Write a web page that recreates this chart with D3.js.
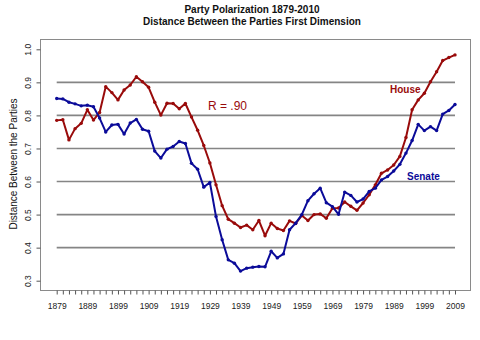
<!DOCTYPE html>
<html><head><meta charset="utf-8">
<script src="https://cdn.jsdelivr.net/npm/d3@7"></script>
<style>body{margin:0;background:#fff;} svg{display:block;font-family:"Liberation Sans",Arial,sans-serif;}</style>
</head><body><svg id="c" width="480" height="340"></svg>
<script>
const years = [1879,1881,1883,1885,1887,1889,1891,1893,1895,1897,1899,1901,1903,1905,1907,1909,1911,1913,1915,1917,1919,1921,1923,1925,1927,1929,1931,1933,1935,1937,1939,1941,1943,1945,1947,1949,1951,1953,1955,1957,1959,1961,1963,1965,1967,1969,1971,1973,1975,1977,1979,1981,1983,1985,1987,1989,1991,1993,1995,1997,1999,2001,2003,2005,2007,2009];
const house = [0.785,0.787,0.726,0.760,0.776,0.817,0.786,0.809,0.887,0.869,0.847,0.877,0.892,0.917,0.902,0.885,0.840,0.801,0.837,0.836,0.820,0.836,0.795,0.755,0.709,0.656,0.590,0.527,0.486,0.474,0.461,0.468,0.454,0.482,0.436,0.474,0.458,0.452,0.481,0.473,0.497,0.482,0.500,0.502,0.489,0.519,0.520,0.538,0.525,0.513,0.535,0.560,0.590,0.625,0.635,0.650,0.676,0.733,0.817,0.847,0.867,0.902,0.932,0.966,0.975,0.983];
const senate = [0.851,0.850,0.840,0.835,0.829,0.831,0.826,0.792,0.750,0.771,0.773,0.744,0.777,0.788,0.758,0.752,0.692,0.671,0.698,0.706,0.721,0.715,0.655,0.637,0.583,0.597,0.494,0.424,0.363,0.353,0.329,0.338,0.341,0.343,0.342,0.389,0.369,0.381,0.454,0.474,0.500,0.542,0.563,0.580,0.536,0.524,0.501,0.568,0.558,0.538,0.547,0.570,0.580,0.605,0.615,0.632,0.652,0.686,0.724,0.773,0.754,0.766,0.754,0.804,0.815,0.833];
const xTickLabels = [1879,1889,1899,1909,1919,1929,1939,1949,1959,1969,1979,1989,1999,2009];
const yTicks = [0.3,0.4,0.5,0.6,0.7,0.8,0.9,1.0];
const gridValues = [0.4,0.5,0.6,0.7,0.8,0.9];
const titleLines = ["Party Polarization 1879-2010","Distance Between the Parties First Dimension"];
const yTitle = "Distance Between the Parties";
const seriesNames = ["House","Senate"];
const annotation = "R = .90";

const houseColor = "#990b0b", senateColor = "#0b0b99";
const svg = d3.select("#c");
const x = d3.scaleLinear().domain([1879,2009]).range([56.7,455]);
const y = d3.scaleLinear().domain([0.3,1.0]).range([280.7,49.3]);
const frame = {left:40.5, right:470.5, top:39.5, bottom:290.5};

svg.append("rect").attr("width",480).attr("height",340).attr("fill","#fff");

// gridlines
svg.append("g").selectAll("line").data(gridValues).join("line")
  .attr("x1", x(1879)).attr("x2", x(2009))
  .attr("y1", d=>y(d)).attr("y2", d=>y(d))
  .attr("stroke","#858585").attr("stroke-width",1.6);

// frame
svg.append("rect").attr("x",frame.left).attr("y",frame.top)
  .attr("width",frame.right-frame.left).attr("height",frame.bottom-frame.top)
  .attr("fill","none").attr("stroke","#8a8a8a").attr("stroke-width",1);

// x axis
const xa = svg.append("g").attr("transform",`translate(0,${frame.bottom})`)
  .call(d3.axisBottom(x).tickValues(years).tickSize(4).tickFormat(d => xTickLabels.includes(d) ? String(d) : ""));
xa.select(".domain").remove();
xa.selectAll(".tick line").attr("stroke","#555");
xa.selectAll(".tick text").attr("y",12).attr("dy","0.71em")
  .attr("font-size","8.5px").attr("fill","#222").attr("font-family",'"Liberation Sans",Arial,sans-serif');

// y axis
const ya = svg.append("g").attr("transform",`translate(${frame.left},0)`)
  .call(d3.axisLeft(y).tickValues(yTicks).tickSize(4).tickFormat(d3.format(".1f")));
ya.select(".domain").remove();
ya.selectAll(".tick line").attr("stroke","#555");
ya.selectAll(".tick text").attr("x",null).attr("dy",null)
  .attr("transform","translate(-9.5,0) rotate(-90)")
  .attr("text-anchor","middle").attr("y",0)
  .attr("font-size","8.5px").attr("fill","#222").attr("font-family",'"Liberation Sans",Arial,sans-serif');

// lines
const line = d3.line().x((d,i)=>x(years[i])).y(d=>y(d));
[[house,houseColor],[senate,senateColor]].forEach(([vals,col])=>{
  svg.append("path").datum(vals).attr("d",line).attr("fill","none")
    .attr("stroke",col).attr("stroke-width",2).attr("stroke-linejoin","round");
  svg.append("g").selectAll("circle").data(vals).join("circle")
    .attr("cx",(d,i)=>x(years[i])).attr("cy",d=>y(d)).attr("r",1.7).attr("fill",col);
});

// titles
svg.append("g").selectAll("text").data(titleLines).join("text")
  .attr("x",252).attr("y",(d,i)=>13+i*11.7).attr("text-anchor","middle")
  .attr("font-size","10px").attr("font-weight","bold").attr("fill","#111").text(d=>d);

svg.append("text").attr("transform","translate(16.5,164) rotate(-90)")
  .attr("text-anchor","middle").attr("font-size","10px").attr("fill","#111").text(yTitle);

// series labels
svg.append("text").attr("x",390).attr("y",93).attr("font-size","10px").attr("font-weight","bold")
  .attr("fill",houseColor).text(seriesNames[0]);
svg.append("text").attr("x",407).attr("y",179.5).attr("font-size","10px").attr("font-weight","bold")
  .attr("fill",senateColor).text(seriesNames[1]);
svg.append("text").attr("x",208).attr("y",109.5).attr("font-size","12px")
  .attr("fill",houseColor).text(annotation);
</script></body></html>
